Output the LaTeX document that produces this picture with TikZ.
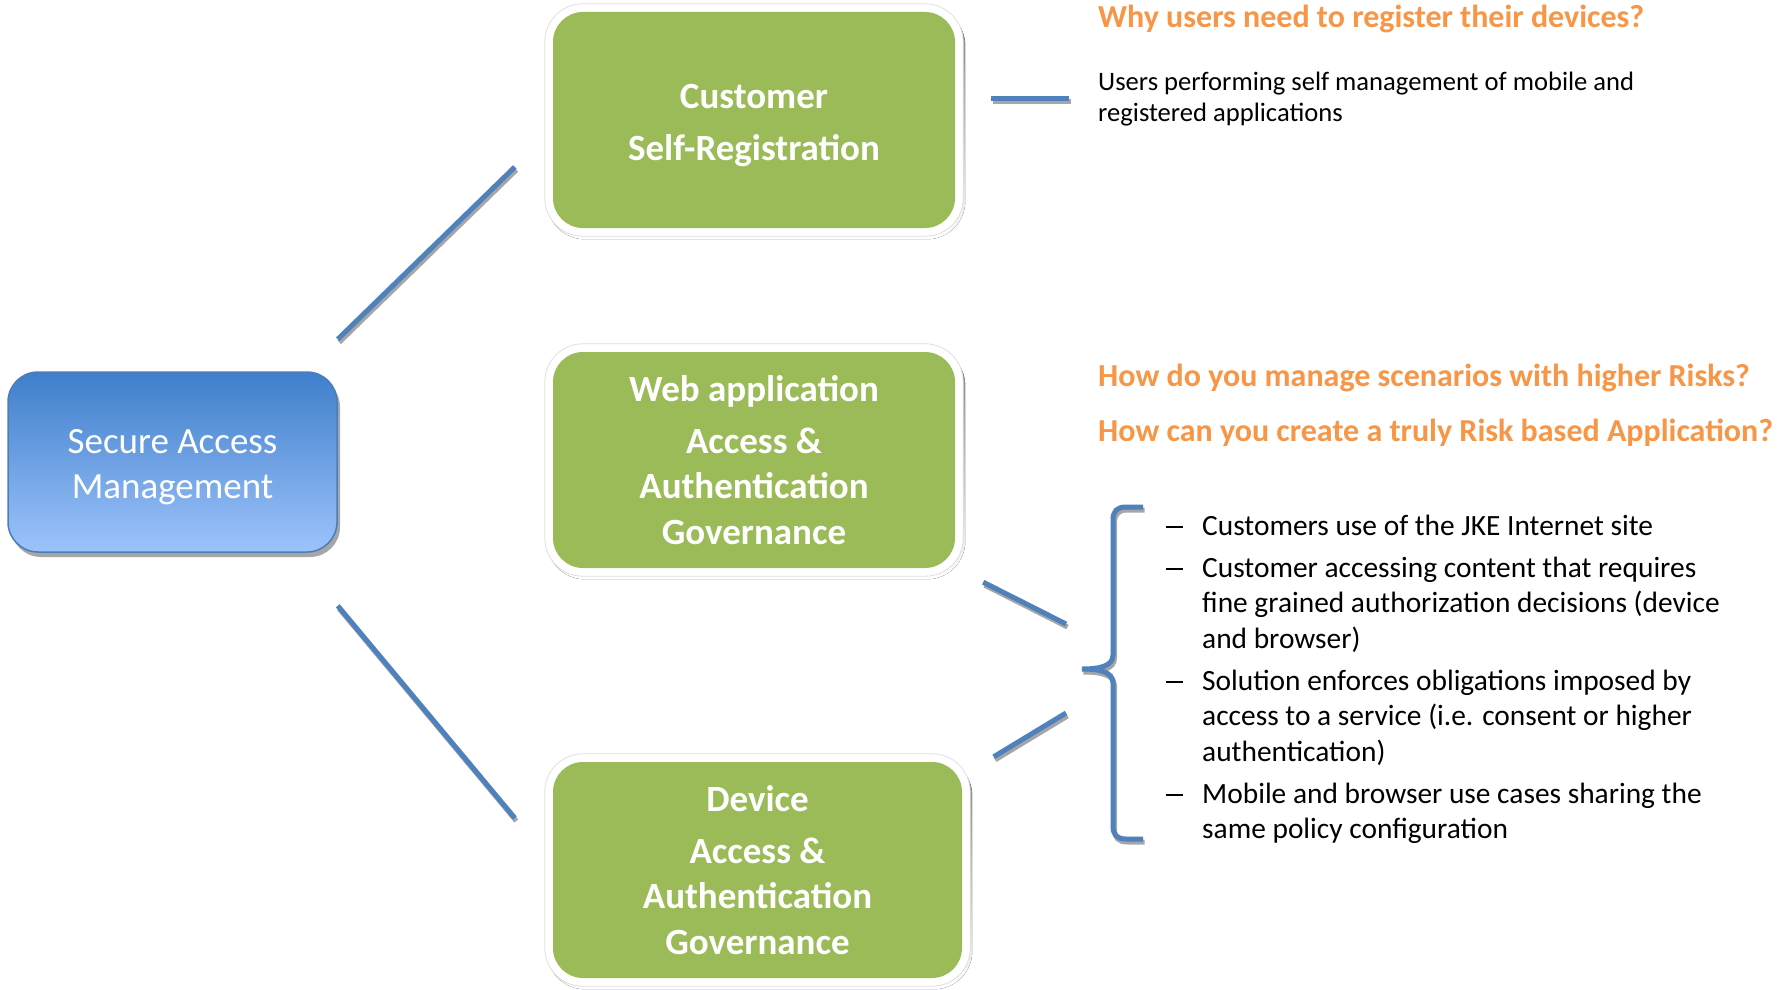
\documentclass[tikz,border=0pt]{standalone}
\usepackage{fontspec}
\setmainfont{Carlito}
\usetikzlibrary{shadows,backgrounds}
\definecolor{boxgreen}{HTML}{9BBB59}
\definecolor{qorange}{HTML}{F79646}
\definecolor{lineblue}{HTML}{4F81BD}
\definecolor{samtop}{HTML}{3F7FCB}
\definecolor{sambot}{HTML}{9DC3FB}
\definecolor{samborder}{HTML}{4A7EBB}
\definecolor{shade}{HTML}{A6A6A6}
\newcommand{\itemdash}{\rule[7.2pt]{17pt}{2.2pt}}
\begin{document}
\begin{tikzpicture}[x=1pt,y=-1pt,
  samstyle/.style={rounded corners=30pt, top color=samtop, bottom color=sambot, draw=samborder, line width=1.5pt,
    minimum width=329pt, minimum height=180pt, inner sep=0pt, text=white, align=center,
    font=\fontsize{37}{45}\selectfont,
    drop shadow={shadow xshift=3pt, shadow yshift=-5pt, fill=shade, opacity=1}},
  gbox/.style={rounded corners=30pt, fill=boxgreen, minimum width=402pt, minimum height=216pt, inner sep=0pt,
    text=white, align=center, font=\bfseries\fontsize{37}{45.5}\selectfont},
  conn/.style={draw=lineblue, line width=5pt,
    preaction={draw=shade, line width=5pt, transform canvas={xshift=1.5pt, yshift=-3pt}}},
  question/.style={anchor=base west, inner sep=0pt, text=qorange, font=\bfseries\fontsize{32}{38}\selectfont},
  body/.style={anchor=base west, inner sep=0pt, text=black}
]
\useasboundingbox (0,0) rectangle (1788,990);

% main nodes
\node[samstyle] (sam) at (172.5,462) {\rule{0pt}{35pt}Secure Access\\Management};
\node[gbox] (b1) at (754,120) {\rule{0pt}{35pt}Customer\\[6.5pt]Self-Registration};
\node[gbox] (b2) at (754,460) {Web application\\[6.5pt]Access \&\\Authentication\\Governance};
\node[gbox, minimum width=409pt] (b3) at (757.5,870) {Device\\[6.5pt]Access \&\\Authentication\\Governance};

% texts
\node[question] (q1) at (1098,28) {Why users need to register their devices?};
\node[body, font=\fontsize{26.6}{31}\selectfont] (usr) at (1098,90)
  {\begin{tabular}[t]{@{}l@{}}Users performing self management of mobile and\\registered applications\end{tabular}};
\node[question] (q2) at (1098,386) {How do you manage scenarios with higher Risks?};
\node[question] (q3) at (1098,441) {How can you create a truly Risk based Application?};
\node[body, font=\fontsize{29.4}{35.5}\selectfont] (lst) at (1166,535)
  {\begin{tabular}[t]{@{}p{36pt}@{}l@{}}
  \itemdash & Customers use of the JKE Internet site\\[6.5pt]
  \itemdash & Customer accessing content that requires\\
    & fine grained authorization decisions (device\\
    & and browser)\\[6.5pt]
  \itemdash & Solution enforces obligations imposed by\\
    & access to a service (i.e. consent or higher\\
    & authentication)\\[6.5pt]
  \itemdash & Mobile and browser use cases sharing the\\
    & same policy configuration
  \end{tabular}};

% free ends near the brace
\coordinate (dEnd) at (1066,624);
\coordinate (eEnd) at (1066,713);

% connectors
\draw[conn] ([shift={(0,-32)}]sam.north east) -- ([shift={(-38,47)}]b1.west);
\draw[conn] ([shift={(0,53)}]sam.south east) -- ([shift={(-38,-52)}]b3.west);
\draw[conn] ([shift={(36,-22)}]b1.east) -- ([shift={(-29,8)}]usr.base west);
\draw[conn] ([shift={(28,14)}]b2.south east) -- (dEnd);
\draw[conn] ([shift={(31.5,-5)}]b3.north east) -- (eEnd);

% brace
\draw[conn] (1143,507) -- (1126,507) .. controls (1117,507) and (1113,511) .. (1113,520)
  -- (1113,655) .. controls (1113,666) and (1100,669) .. (1082,669)
  .. controls (1100,669) and (1113,672) .. (1113,683)
  -- (1113,826) .. controls (1113,835) and (1117,839) .. (1126,839) -- (1143,839);

% white rims and shadows of the green boxes
\begin{scope}[on background layer]
  \fill[white] (0,0) rectangle (1788,990);
  \foreach \b in {b1,b2,b3} {
    \fill[shade, rounded corners=38pt] ([shift={(-6,-4)}]\b.north west) rectangle ([shift={(10,11)}]\b.south east);
    \filldraw[fill=white, draw=gray!25, line width=0.8pt, rounded corners=38pt]
      ([shift={(-8,-8)}]\b.north west) rectangle ([shift={(8,8)}]\b.south east);
  }
\end{scope}
\end{tikzpicture}
\end{document}
